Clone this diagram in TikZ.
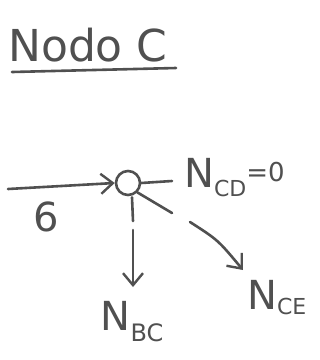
\documentclass[tikz,border=0pt]{standalone}
\usepackage{fontspec}
\setsansfont{DejaVu Sans}
\usetikzlibrary{arrows.meta}
\definecolor{pencil}{RGB}{80,80,80}
\begin{document}
\begin{tikzpicture}[x=1pt,y=-1pt,
  pen/.style={draw=pencil,line width=2.6pt,line cap=round},
  arr/.style={pen,-{Straight Barb[length=12pt,width=20pt,line width=2.4pt]}},
  lbl/.style={text=pencil,inner sep=0pt,font=\sffamily\fontsize{40}{42}\selectfont},
  joint/.style={circle,draw=pencil,line width=2.6pt,minimum size=24pt,inner sep=0pt}]
\useasboundingbox (0,0) rectangle (320,360);
\fill[white] (0,0) rectangle (320,360);
% title
\node[lbl,font=\sffamily\fontsize{44}{46}\selectfont,anchor=south west] (title) at (8,62) {Nodo C};
\coordinate (ul1) at (12,72);
\coordinate (ul2) at (176,68);
\draw[pen] (ul1) -- (ul2);
% joint
\node[joint] (c) at (128,183) {};
\coordinate (in) at (8,189);
\draw[arr] (in) -- (c.west);
\node[lbl] (six) at (46,217) {6};
% stubs
\coordinate (cdend) at (172,181);
\draw[pen] (c.east) -- (cdend);
\node[lbl,anchor=west] (cd) at (184,178) {N\raisebox{-9pt}{\fontsize{22}{24}\selectfont CD}\raisebox{6pt}{\fontsize{26}{28}\selectfont=0}};
\coordinate (bcs) at (133,221);
\draw[pen] (c.south) ++(4,1) -- (bcs);
\coordinate (bc1) at (133,230);
\coordinate (bc2) at (133,287);
\node[lbl] (bc) at (132,322) {N\raisebox{-11pt}{\fontsize{24}{26}\selectfont BC}};
\draw[arr] (bc1) -- (bc2);
\coordinate (ces) at (172,213);
\draw[pen] (c.south east) -- (ces);
\coordinate (ce1) at (190,222);
\coordinate (ce2) at (243,270);
\node[lbl,anchor=west] (ce) at (247,298) {N\raisebox{-5pt}{\fontsize{22}{24}\selectfont CE}};
\draw[arr] (ce1) .. controls (218,240) .. (ce2);
\end{tikzpicture}
\end{document}
